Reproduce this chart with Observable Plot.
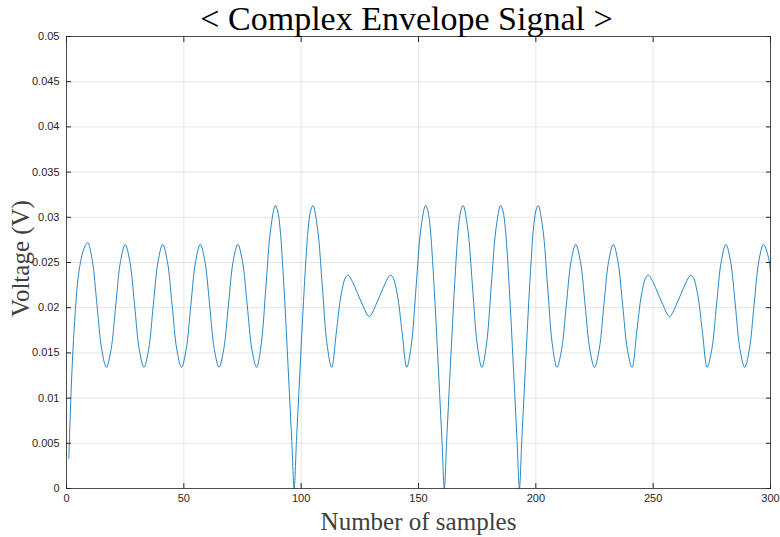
<!DOCTYPE html>
<html><head><meta charset="utf-8">
<script src="https://cdn.jsdelivr.net/npm/d3@7"></script>
<script src="https://cdn.jsdelivr.net/npm/@observablehq/plot@0.6"></script>
<style>body{margin:0;background:#fff;}</style>
</head><body><div id="chart"></div>
<script>
const title = "< Complex Envelope Signal >";
const xLabel = "Number of samples";
const yLabel = "Voltage (V)";
const xTicks = [0, 50, 100, 150, 200, 250, 300];
const yTicks = [0, 0.005, 0.01, 0.015, 0.02, 0.025, 0.03, 0.035, 0.04, 0.045, 0.05];
const yTickLabels = ["0", "0.005", "0.01", "0.015", "0.02", "0.025", "0.03", "0.035", "0.04", "0.045", "0.05"];

const sampleIdx = [
  1,2,3,4,5,7,9,11,13,15,17,19,21,23,25,27,29,31,33,35,37,39,41,43,45,47,49,
  51,53,55,57,59,61,63,65,67,69,71,73,75,77,79,81,83,85,87,
  89,90,91,92,93,94,95,96,97,98,99,100,101,102,103,104,105,
  107,109,111,113,115,117,119,120,122,124,126,128,129,130,132,134,136,138,139,141,143,145,
  147,149,151,153,154,155,156,157,158,159,160,161,162,163,164,165,166,167,168,169,
  171,173,175,177,179,181,183,185,186,187,188,189,190,191,192,193,194,195,196,197,198,199,200,201,
  203,205,207,209,211,213,215,217,219,221,223,225,227,229,231,233,235,237,239,241,
  243,245,247,248,250,252,254,256,257,258,260,262,264,266,267,269,271,273,
  275,277,279,281,283,285,287,289,291,293,295,297,299,300
];
const voltage = [
  0.0033,0.0110,0.0165,0.0205,0.0234,0.0262,0.0272,0.0252,0.0203,0.0154,0.0134,0.0154,0.0203,0.0251,0.0270,0.0251,0.0203,0.0154,0.0134,0.0154,0.0203,0.0251,0.0270,0.0251,0.0203,0.0154,0.0134,
  0.0154,0.0203,0.0251,0.0270,0.0251,0.0203,0.0154,0.0134,0.0154,0.0203,0.0251,0.0270,0.0251,0.0203,0.0154,0.0134,0.0160,0.0224,0.0287,
  0.0313,0.0307,0.0288,0.0252,0.0207,0.0157,0.0105,0.0053,0,0.0053,0.0105,0.0157,0.0207,0.0252,0.0288,0.0307,0.0313,
  0.0287,0.0224,0.0160,0.0134,0.0173,0.0214,0.0234,0.0236,0.0228,0.0216,0.0204,0.0193,0.0190,0.0193,0.0204,0.0216,0.0228,0.0236,0.0234,0.0214,0.0173,0.0134,
  0.0160,0.0224,0.0287,0.0313,0.0307,0.0288,0.0252,0.0207,0.0157,0.0105,0.0053,0,0.0053,0.0105,0.0157,0.0207,0.0252,0.0288,0.0307,0.0313,
  0.0287,0.0224,0.0160,0.0134,0.0160,0.0224,0.0287,0.0313,0.0307,0.0288,0.0252,0.0207,0.0157,0.0105,0.0053,0,0.0053,0.0105,0.0157,0.0207,0.0252,0.0288,0.0307,0.0313,
  0.0287,0.0224,0.0160,0.0134,0.0154,0.0203,0.0251,0.0270,0.0251,0.0203,0.0154,0.0134,0.0154,0.0203,0.0251,0.0270,0.0251,0.0203,0.0154,0.0134,
  0.0173,0.0214,0.0234,0.0236,0.0228,0.0216,0.0204,0.0193,0.0190,0.0193,0.0204,0.0216,0.0228,0.0236,0.0234,0.0214,0.0173,0.0134,
  0.0154,0.0203,0.0251,0.0270,0.0251,0.0203,0.0154,0.0134,0.0154,0.0203,0.0251,0.0270,0.0257,0.0239
];

const data = sampleIdx.map((x, i) => ({x, v: voltage[i]}));
const serif = "'Liberation Serif', 'DejaVu Serif', serif";
const sans = "'Liberation Sans', Arial, sans-serif";

const chart = Plot.plot({
  width: 780, height: 537,
  marginLeft: 66, marginRight: 10, marginTop: 36, marginBottom: 49,
  style: {background: "#fff", fontFamily: sans},
  x: {domain: [0, 300]},
  y: {domain: [0, 0.05]},
  marks: [
    Plot.gridX(xTicks, {stroke: "#262626", strokeOpacity: 0.12}),
    Plot.gridY(yTicks, {stroke: "#262626", strokeOpacity: 0.12}),
    Plot.line(data, {x: "x", y: "v", stroke: "#0072BD", strokeWidth: 0.85, curve: "catmull-rom"}),
    Plot.frame({stroke: "#262626", strokeOpacity: 0.8}),
    Plot.axisX(xTicks, {anchor: "bottom", tickSize: -5, tickPadding: 11, fontSize: 11, color: "#262626", label: null}),
    Plot.axisX(xTicks, {anchor: "top", tickSize: -5, tickFormat: () => "", label: null, color: "#262626"}),
    Plot.axisY(yTicks, {anchor: "left", tickSize: -5, tickPadding: 12, fontSize: 11, color: "#262626", label: null,
      tickFormat: d => yTickLabels[yTicks.indexOf(d)]}),
    Plot.axisY(yTicks, {anchor: "right", tickSize: -5, tickFormat: () => "", label: null, color: "#262626"}),
    Plot.text([title], {frameAnchor: "top", lineAnchor: "middle", textAnchor: "middle", dy: -17, dx: -12, fontSize: 34, fontFamily: serif, fill: "#000"}),
    Plot.text([xLabel], {frameAnchor: "bottom", lineAnchor: "middle", textAnchor: "middle", dy: 33, fontSize: 25, fontFamily: serif, fill: "#404040"}),
    Plot.text([yLabel], {frameAnchor: "left", lineAnchor: "middle", textAnchor: "middle", dx: -46, dy: -4, rotate: -90, fontSize: 25, fontFamily: serif, fill: "#404040"})
  ]
});
document.getElementById("chart").appendChild(chart);
</script>
</body></html>
